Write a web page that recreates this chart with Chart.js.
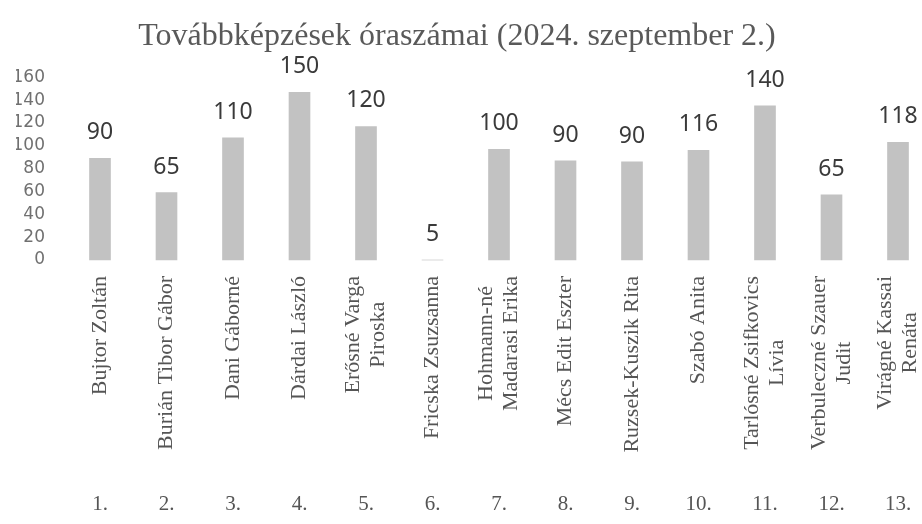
<!DOCTYPE html>
<html lang="hu">
<head>
<meta charset="utf-8">
<title>Továbbképzések óraszámai</title>
<script src="https://cdn.jsdelivr.net/npm/chart.js@4.4.1/dist/chart.umd.min.js"></script>
<style>
    html, body { margin: 0; padding: 0; background: #fff; }
    #chart { display: block; }
</style>
</head>
<body>
<canvas id="chart" width="922" height="524"></canvas>
<script>

// names under the bars, one entry per bar, split where the picture breaks the line
const nevek = [
    ['Bujtor Zoltán'], ['Burián Tibor Gábor'], ['Dani Gáborné'], ['Dárdai László'],
    ['Erősné Varga', 'Piroska'], ['Fricska Zsuzsanna'], ['Hohmann-né', 'Madarasi Erika'],
    ['Mécs Edit Eszter'], ['Ruzsek-Kuszik Rita'], ['Szabó Anita'],
    ['Tarlósné Zsifkovics', 'Lívia'], ['Verbuleczné Szauer', 'Judit'], ['Virágné Kassai', 'Renáta']
];
const sorszamok = ['1.', '2.', '3.', '4.', '5.', '6.', '7.', '8.', '9.', '10.', '11.', '12.', '13.'];

// numbers printed above the bars
const feliratok = [90, 65, 110, 150, 120, 5, 100, 90, 90, 116, 140, 65, 118];
// bar heights as drawn in the picture (they do not always match the printed number)
const oszlopok = [89, 59, 107, 147, 117, 0, 97, 87, 86, 96, 135, 57, 103];

const yMin = 0;
const yMax = 160;
const yStep = 20;


// value labels above each bar
const feliratPlugin = {
    id: 'feliratok',
    afterDatasetsDraw(chart) {
        const ctx = chart.ctx;
        const meta = chart.getDatasetMeta(0);
        ctx.save();
        ctx.font = '23px "Noto Sans"';
        ctx.fillStyle = '#3a3a3a';
        ctx.textAlign = 'center';
        ctx.textBaseline = 'alphabetic';
        meta.data.forEach((bar, i) => {
            ctx.fillText(String(feliratok[i]), bar.x, bar.y - 19);
        });
        ctx.restore();
    }
};

// rotated names, lines centred on each other, block ending just under the axis
const nevPlugin = {
    id: 'nevek',
    afterDraw(chart) {
        const ctx = chart.ctx;
        const xScale = chart.scales.x;
        const top = chart.chartArea.bottom + 16;
        const lineH = 25;
        ctx.save();
        ctx.font = '22px "Liberation Serif"';
        ctx.fillStyle = '#555555';
        ctx.textAlign = 'center';
        ctx.textBaseline = 'middle';
        nevek.forEach((lines, i) => {
            const x = xScale.getPixelForValue(i);
            const w = Math.max(...lines.map(l => ctx.measureText(l).width));
            ctx.save();
            ctx.translate(x, top);
            ctx.rotate(-Math.PI / 2);
            lines.forEach((line, j) => {
                ctx.fillText(line, -w / 2, (j - (lines.length - 1) / 2) * lineH);
            });
            ctx.restore();
        });
        ctx.restore();
    }
};


function build_bar_chart(ctx) {

    new Chart(ctx, {
        type: 'bar',
        data: {
            labels: nevek.map(n => n.join(' ')),
            datasets: [
                {
                    label: 'Óraszám',
                    data: oszlopok,
                    backgroundColor: '#c2c2c2',
                    barThickness: 21,
                    clip: false
                }
            ]
        },
        options: {
            responsive: false,
            animation: false,
            layout: {
                padding: { left: 16, right: 24, top: 0, bottom: 0 }
            },
            plugins: {
                legend: { display: false },
                tooltip: { enabled: false },
                title: {
                    display: true,
                    text: 'Továbbképzések óraszámai (2024. szeptember 2.)',
                    color: '#595959',
                    font: { family: '"Liberation Serif"', size: 32, weight: 'normal' },
                    padding: { top: 17, bottom: 22 }
                }
            },
            scales: {
                // names axis: room is kept here, the names are drawn by nevPlugin
                x: {
                    position: 'bottom',
                    weight: 0,
                    offset: false,
                    grid: { display: false },
                    border: { display: false },
                    ticks: { display: false },
                    afterFit(scale) {
                        scale.height = 222;
                    }
                },
                x2: {
                    type: 'category',
                    position: 'bottom',
                    weight: 1,
                    labels: sorszamok,
                    offset: false,
                    grid: { display: false },
                    border: { display: false },
                    ticks: {
                        padding: 2,
                        maxRotation: 0,
                        autoSkip: false,
                        color: '#555555',
                        font: { family: '"Liberation Serif"', size: 21 }
                    },
                    afterFit(scale) {
                        scale.height = 42;
                    }
                },
                y: {
                    min: yMin,
                    max: yMax,
                    grid: { display: false },
                    border: { display: false },
                    ticks: {
                        stepSize: yStep,
                        autoSkip: false,
                        padding: 47,
                        color: '#707070',
                        font: { family: '"DejaVu Sans"', size: 17 }
                    },
                    afterFit(scale) {
                        scale.width = 84;
                    }
                }
            }
        },
        plugins: [feliratPlugin, nevPlugin]
    });

}

build_bar_chart(document.getElementById('chart').getContext('2d'));

</script>
</body>
</html>
